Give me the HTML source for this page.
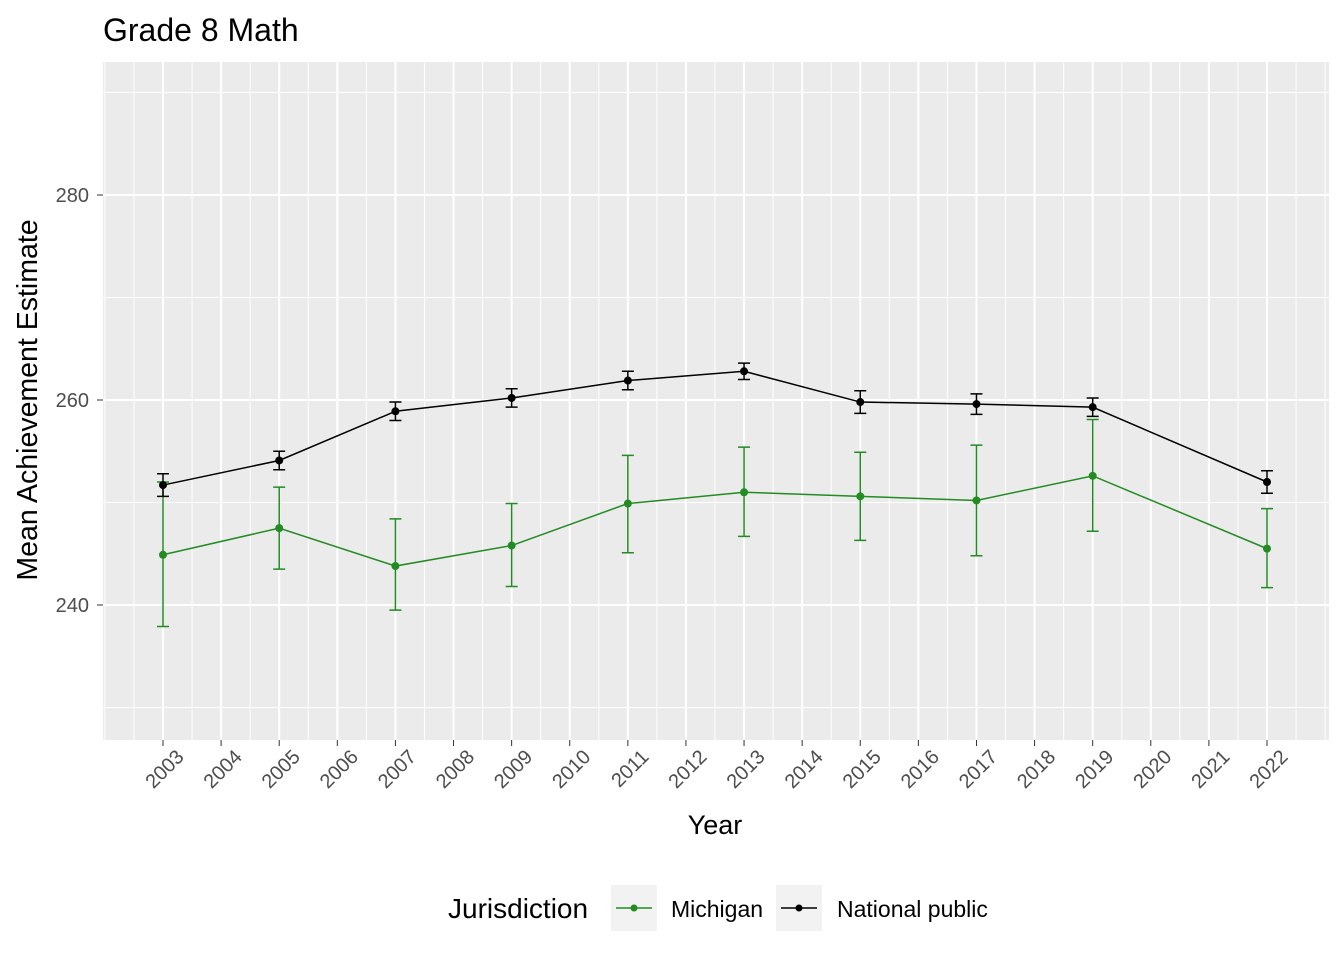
<!DOCTYPE html>
<html><head><meta charset="utf-8"><style>
body{margin:0;background:#fff;font-family:"Liberation Sans",Arial,sans-serif}
svg text{font-family:"Liberation Sans",Arial,sans-serif}
</style></head><body>
<svg id="chart" width="1344" height="960" xmlns="http://www.w3.org/2000/svg">
<text x="103" y="41" font-size="32" fill="#000">Grade 8 Math</text>
<rect x="103" y="62" width="1226" height="678" fill="#ebebeb"/>
<g id="grid"></g><g id="axes"></g><g id="series"></g>
<text x="715" y="834" font-size="27" text-anchor="middle">Year</text>
<text transform="translate(37,400) rotate(-90)" font-size="28.5" text-anchor="middle">Mean Achievement Estimate</text>
<g>
<text x="448" y="918" font-size="28">Jurisdiction</text>
<g>
<rect x="611" y="885" width="46" height="46" fill="#f2f2f2"/>
<line x1="616" y1="908" x2="652" y2="908" stroke="#228b22" stroke-width="1.5"/>
<circle cx="634" cy="908" r="3.5" fill="#228b22"/>
<text x="671" y="917" font-size="23">Michigan</text></g>
<g>
<rect x="776" y="885" width="46" height="46" fill="#f2f2f2"/>
<line x1="781" y1="908" x2="817" y2="908" stroke="#000" stroke-width="1.5"/>
<circle cx="799" cy="908" r="3.5" fill="#000"/>
<text x="837" y="917" font-size="23">National public</text></g>
</g>
</svg>
<script>
const years=[2003,2005,2007,2009,2011,2013,2015,2017,2019,2022];
const miMean=[244.9,247.5,243.8,245.8,249.9,251.0,250.6,250.2,252.6,245.5];
const miLow=[237.9,243.5,239.5,241.8,245.1,246.7,246.3,244.8,247.2,241.7];
const miHigh=[252.0,251.5,248.4,249.9,254.6,255.4,254.9,255.6,258.1,249.4];
const npMean=[251.7,254.1,258.9,260.2,261.9,262.8,259.8,259.6,259.3,252.0];
const npLow=[250.6,253.2,258.0,259.3,261.0,262.0,258.7,258.6,258.4,250.9];
const npHigh=[252.8,255.0,259.8,261.1,262.8,263.6,260.9,260.6,260.2,253.1];
const yTicks=[240,260,280];
const NS='http://www.w3.org/2000/svg';
const X=y=>163+(y-2003)*(1267-163)/19;
const Y=v=>605-(v-240)*(605-400)/20;
function mk(p,t,a){const e=document.createElementNS(NS,t);for(const k in a)e.setAttribute(k,a[k]);p.appendChild(e);return e;}
const grid=document.getElementById('grid'),axes=document.getElementById('axes'),ser=document.getElementById('series');
for(let v=230;v<=290;v+=10){const l=mk(grid,'line',{x1:103,x2:1329,y1:Y(v),y2:Y(v),stroke:'#fff','stroke-width':v%20==0?2:1});
}
for(let yr=2002;yr<=2023;yr+=0.5){const maj=Number.isInteger(yr)&&yr>=2003&&yr<=2022;
const l=mk(grid,'line',{x1:X(yr),x2:X(yr),y1:62,y2:740,stroke:'#fff','stroke-width':maj?2:1});
}
yTicks.forEach(v=>{mk(axes,'line',{x1:97,x2:103,y1:Y(v),y2:Y(v),stroke:'#333','stroke-width':1});
const t=mk(axes,'text',{x:89,y:Y(v)+7,'font-size':20,'text-anchor':'end',fill:'#4d4d4d'});t.textContent=v;
});
for(let yr=2003;yr<=2022;yr++){mk(axes,'line',{x1:X(yr),x2:X(yr),y1:740,y2:746,stroke:'#333'});
const t=mk(axes,'text',{transform:`translate(${X(yr)+22},${758}) rotate(-45)`,'font-size':20,'text-anchor':'end',fill:'#4d4d4d'});t.textContent=yr;
}
function series(mean,lo,hi,col,name){
const g=mk(ser,'g',{});
mk(g,'polyline',{points:years.map((y,i)=>X(y)+','+Y(mean[i])).join(' '),fill:'none',stroke:col,'stroke-width':1.5});
years.forEach((y,i)=>{const x=X(y);
mk(g,'path',{d:`M${x-6},${Y(lo[i])}H${x+6}M${x},${Y(lo[i])}V${Y(hi[i])}M${x-6},${Y(hi[i])}H${x+6}`,stroke:col,'stroke-width':1.5,fill:'none'});
const c=mk(g,'circle',{cx:x,cy:Y(mean[i]),r:4,fill:col});
});}
series(miMean,miLow,miHigh,'#228b22','series-michigan');
series(npMean,npLow,npHigh,'#000','series-national-public');
</script>
</body></html>
